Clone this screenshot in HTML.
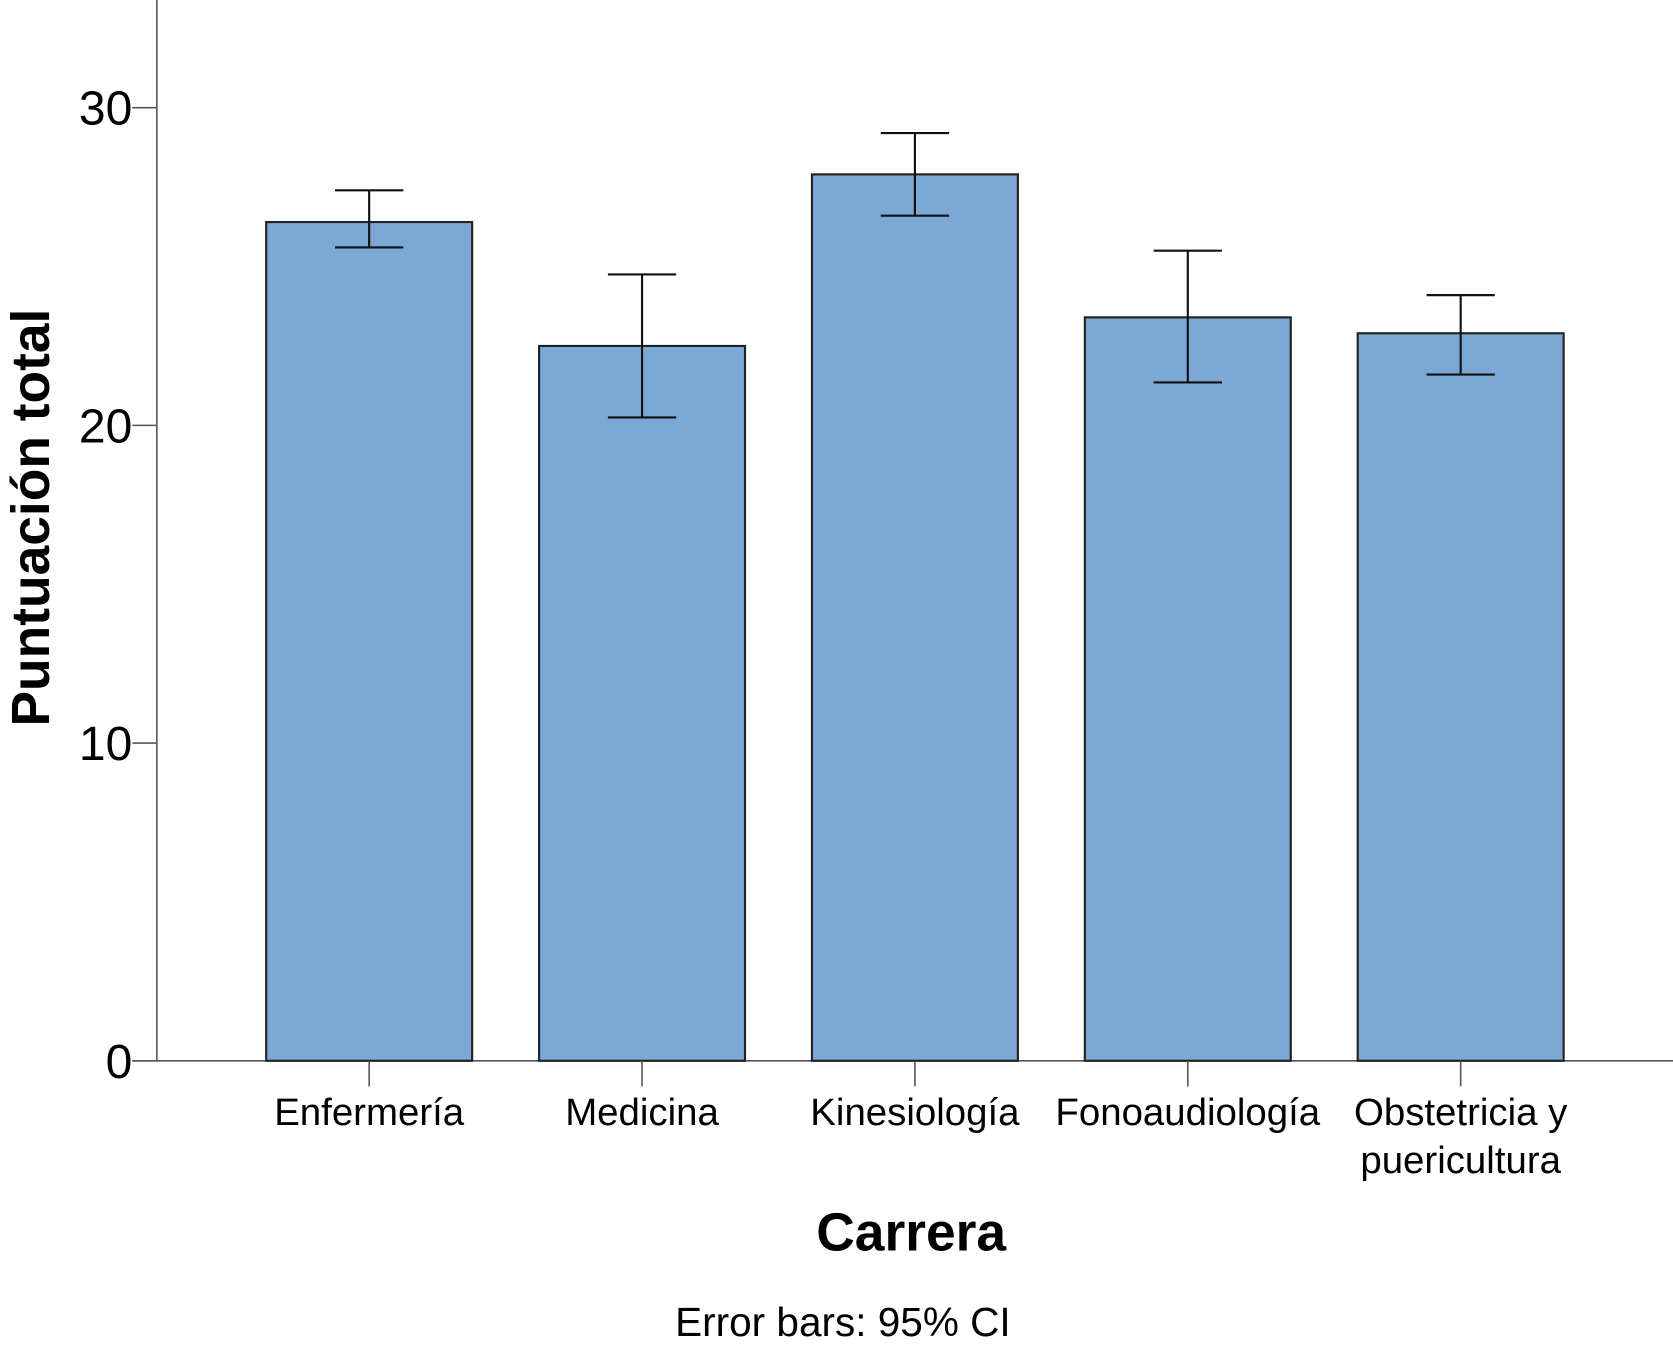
<!DOCTYPE html>
<html><head><meta charset="utf-8"><style>
html,body{margin:0;padding:0;background:#fff;width:1673px;height:1350px;overflow:hidden}
svg{display:block;font-family:"Liberation Sans",Arial,sans-serif}
</style></head><body>
<svg id="chart" width="1673" height="1350" viewBox="0 0 1568 1265" preserveAspectRatio="none" xmlns="http://www.w3.org/2000/svg">
<g id="g"></g>
</svg>
<script>
const categories = ["Enfermería","Medicina","Kinesiología","Fonoaudiología","Obstetricia y|puericultura"];
const means = [26.4, 22.5, 27.9, 23.4, 22.9];
const ciHigh = [27.4, 24.75, 29.2, 25.5, 24.1];
const ciLow = [25.6, 20.25, 26.6, 21.35, 21.6];
const yTicks = [0, 10, 20, 30];

const NS = "http://www.w3.org/2000/svg";
const g = document.getElementById("g");
const y0 = 994, perUnit = 29.77;
const yScale = v => y0 - v * perUnit;
const xCenter = i => 346 + i * 255.75;
const barW = 193;
function el(tag, attrs, parent) {
  const e = document.createElementNS(NS, tag);
  for (const k in attrs) e.setAttribute(k, attrs[k]);
  (parent || g).appendChild(e);
  return e;
}
let a = el("line", {x1:147, y1:0, x2:147, y2:994, stroke:"#555", "stroke-width":1.5});


a = el("line", {x1:124, y1:994, x2:1568, y2:994, stroke:"#555", "stroke-width":1.5});


yTicks.forEach(t => {
  const y = yScale(t);
  const l = el("line", {x1:124, y1:y, x2:147, y2:y, stroke:"#555", "stroke-width":1.5});
  
  
  const tx = el("text", {x:124, y:y + 16, "text-anchor":"end", "font-size":45, fill:"#000"});
  tx.textContent = t;
  
  
});
categories.forEach((c, i) => {
  const cx = xCenter(i);
  const top = yScale(means[i]);
  const r = el("rect", {x:cx - barW/2, y:top, width:barW, height:y0 - top, fill:"#7ba8d4", stroke:"#222", "stroke-width":2});
  
  
  const hi = yScale(ciHigh[i]), lo = yScale(ciLow[i]);
  const eb = el("path", {d:`M${cx},${hi}V${lo}M${cx-32},${hi}H${cx+32}M${cx-32},${lo}H${cx+32}`, stroke:"#111", "stroke-width":2, fill:"none"});
  
  
  const tk = el("line", {x1:cx, y1:994, x2:cx, y2:1018, stroke:"#555", "stroke-width":1.5});
  
  
  c.split("|").forEach((line, j) => {
    const tx = el("text", {x:cx, y:1054 + j*45, "text-anchor":"middle", "font-size":36, fill:"#000"});
    tx.textContent = line;
    
    
  });
});
let t = el("text", {x:854, y:1172, "text-anchor":"middle", "font-size":50, "font-weight":"bold"});
t.textContent = "Carrera";


t = el("text", {x:0, y:0, "text-anchor":"middle", "font-size":50, "font-weight":"bold", transform:"translate(46,485) rotate(-90)"});
t.textContent = "Puntuación total";


t = el("text", {x:790, y:1252, "text-anchor":"middle", "font-size":38});
t.textContent = "Error bars: 95% CI";


</script>
</body></html>
